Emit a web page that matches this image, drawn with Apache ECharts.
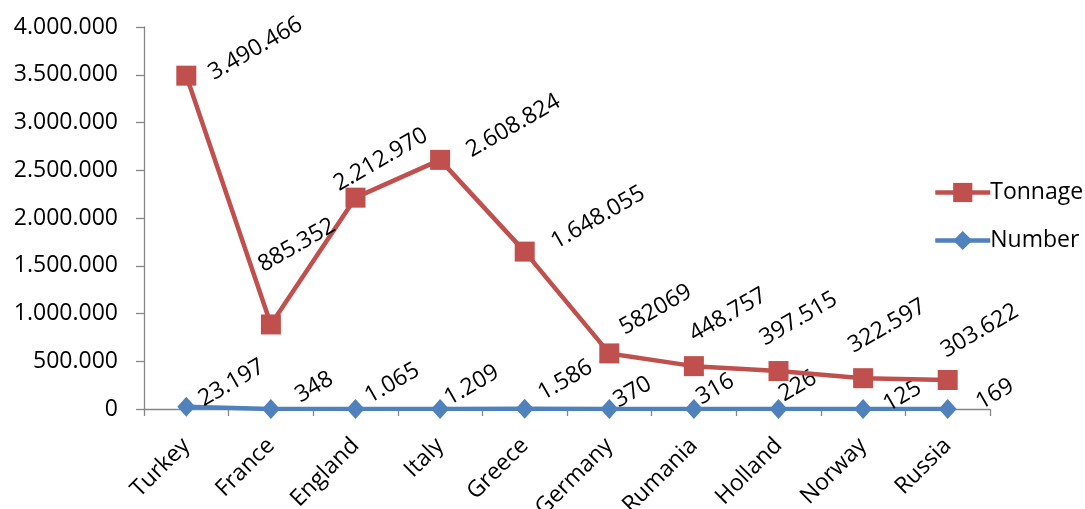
<!DOCTYPE html>
<html>
<head>
<meta charset="utf-8">
<script src="https://cdn.jsdelivr.net/npm/echarts@6/dist/echarts.min.js"></script>
<style>
html,body{margin:0;padding:0;background:#fff;}
#chart{width:1085px;height:509px;}
</style>
</head>
<body>
<div id="chart"></div>
<script>
// ---- data ----
const categories = ['Turkey','France','England','Italy','Greece','Germany','Rumania','Holland','Norway','Russia'];
const tonnage = [3490466, 885352, 2212970, 2608824, 1648055, 582069, 448757, 397515, 322597, 303622];
const tonnageLabels = ['3.490.466','885.352','2.212.970','2.608.824','1.648.055','582069','448.757','397.515','322.597','303.622'];
const number = [23197, 348, 1065, 1209, 1586, 370, 316, 226, 125, 169];
const numberLabels = ['23.197','348','1.065','1.209','1.586','370','316','226','125','169'];
const yMin = 0, yMax = 4000000, yStep = 500000;

// ---- styling ----
const FONT = 'Open Sans';
const FS = 23;
const ROT = 30;
// screen-space nudges (px) of label bottom-left from marker centre
const tonNudge = [[21,5],[-14,-52],[-23,-6],[25,-2],[25,-2],[9,-18],[-6,-24],[-20,-25],[-16,-25],[-8,-22]];
const numNudge = [[11,0],[23,-6],[8,-5],[3,-3],[12,-8],[3,-1],[1,-4],[-1,-7],[19,3],[27,1]];

function toLocal(d){
  // offsets are rotated with label; convert screen vector to label frame
  const t = ROT*Math.PI/180;
  const x = d[0]+9, y = d[1]+4;
  return [x*Math.cos(t) - y*Math.sin(t), x*Math.sin(t) + y*Math.cos(t)];
}
function dotted(v){
  return String(v).replace(/\B(?=(\d{3})+(?!\d))/g,'.');
}
function buildData(vals, labels, nudges){
  return vals.map((v,i)=>({value:v, label:{formatter: labels[i], offset: toLocal(nudges[i])}}));
}

const labelBase = {
  show:true, position:'inside', rotate:ROT, align:'left', verticalAlign:'bottom',
  color:'#000', fontFamily:FONT, fontSize:FS
};

const chart = echarts.init(document.getElementById('chart'), null, {renderer:'canvas'});
chart.setOption({
  animation:false,
  backgroundColor:'#fff',
  grid:{left:144, right:95, top:27, bottom:100, containLabel:false, outerBoundsMode:'none'},
  legend:{
    orient:'vertical', left:928, top:176,
    itemWidth:55, itemHeight:24, itemGap:25,
    lineStyle:{width:4.5},
    textStyle:{fontFamily:FONT, fontSize:FS, color:'#000', lineHeight:20, padding:[0,0,0,-5]},
    data:['Tonnage','Number']
  },
  xAxis:{
    type:'category', data:categories, boundaryGap:true,
    axisLine:{lineStyle:{color:'#868686', width:1.3}},
    axisTick:{show:true, length:7, alignWithLabel:false, lineStyle:{color:'#868686', width:1.3}},
    axisLabel:{interval:0, rotate:45, margin:33, color:'#000', fontFamily:FONT, fontSize:FS},
    splitLine:{show:false}
  },
  yAxis:{
    type:'value', min:yMin, max:yMax, interval:yStep,
    axisLine:{show:true, lineStyle:{color:'#868686', width:1.3}},
    axisTick:{show:true, length:8, lineStyle:{color:'#868686', width:1.3}},
    axisLabel:{margin:26, color:'#000', fontFamily:FONT, fontSize:FS, formatter:v=>dotted(v)},
    splitLine:{show:false}
  },
  series:[
    {
      name:'Tonnage', type:'line', data:buildData(tonnage, tonnageLabels, tonNudge),
      symbol:'rect', symbolSize:20, showSymbol:true,
      lineStyle:{color:'#C0504D', width:4.5},
      itemStyle:{color:'#C0504D'},
      label:labelBase, z:3
    },
    {
      name:'Number', type:'line', data:buildData(number, numberLabels, numNudge),
      symbol:'diamond', symbolSize:[18,20], showSymbol:true,
      lineStyle:{color:'#4F81BD', width:4.5},
      itemStyle:{color:'#4F81BD'},
      label:labelBase, z:2
    }
  ]
});
</script>
</body>
</html>
